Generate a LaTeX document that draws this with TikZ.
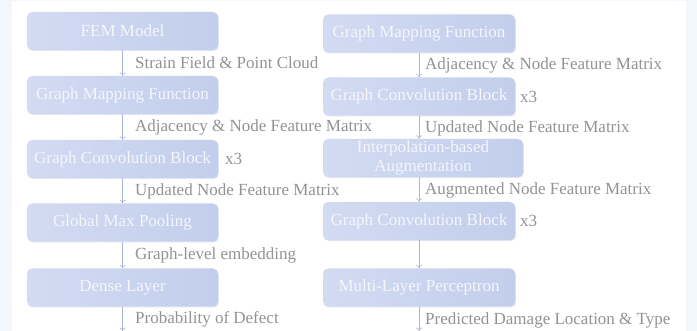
\documentclass[tikz,border=0pt]{standalone}
\usepackage{fontspec}
\setmainfont{Liberation Serif}
\usetikzlibrary{shadows,arrows.meta}
\definecolor{outerbg}{HTML}{F1F7FD}
\definecolor{boxtl}{HTML}{D2DBF1}
\definecolor{boxbr}{HTML}{C2CEEC}
\definecolor{shcol}{HTML}{BAC4DD}
\definecolor{lblcol}{HTML}{939393}
\definecolor{arrcol}{HTML}{A9B5D4}
\definecolor{boxtxt}{HTML}{F4F6FC}
\tikzset{
  blk/.style={rectangle, rounded corners=5pt, minimum height=38pt, inner sep=0pt,
    left color=boxtl, right color=boxbr, text=boxtxt,
    font=\fontsize{17}{19.5}\selectfont, align=center,
    drop shadow={shadow xshift=0.8pt, shadow yshift=-1pt, fill=shcol, opacity=0.45}},
  lbl/.style={anchor=west, text=lblcol, inner sep=0pt, font=\fontsize{17}{19.5}\selectfont},
  flow/.style={draw=arrcol, line width=0.6pt, -{To[length=3.5pt,width=6pt]}},
}
\begin{document}
\begin{tikzpicture}[x=1pt,y=-1pt]
\useasboundingbox (0,0) rectangle (697,331);
\fill[outerbg] (0,0) rectangle (697,331);
\fill[white] (11.5,1.5) rectangle (686,331);
% left column
\node[blk, minimum width=191pt] (l1) at (122.5,31) {FEM Model};
\node[blk, minimum width=191pt] (l2) at (122.5,95) {Graph Mapping Function};
\node[blk, minimum width=191pt] (l3) at (122.5,159) {Graph Convolution Block};
\node[blk, minimum width=191pt] (l4) at (122.5,222.5) {Global Max Pooling};
\node[blk, minimum width=191pt] (l5) at (122.5,287.5) {Dense Layer};
\coordinate (lend) at (122.5,331);
\draw[flow] (l1.south) -- (l2.north);
\draw[flow] (l2.south) -- (l3.north);
\draw[flow] (l3.south) -- (l4.north);
\draw[flow] (l4.south) -- (l5.north);
\draw[flow] (l5.south) -- (lend);
\node[lbl] (t1) at (135,63) {Strain Field \& Point Cloud};
\node[lbl] (t2) at (135,127.5) {Adjacency \& Node Feature Matrix};
\node[lbl] (t3) at (135,191) {Updated Node Feature Matrix};
\node[lbl] (t4) at (135,255) {Graph-level embedding};
\node[lbl] (t5) at (135,319.5) {Probability of Defect};
\node[lbl] (x1) at (225,159) {x3};
% right column
\node[blk, minimum width=192pt] (r1) at (419,33.5) {Graph Mapping Function};
\node[blk, minimum width=192pt] (r2) at (419,96.5) {Graph Convolution Block};
\node[blk, minimum width=200pt, text width=200pt] (r3) at (423,158) {Interpolation-based\\Augmentation};
\node[blk, minimum width=192pt] (r4) at (419,221) {Graph Convolution Block};
\node[blk, minimum width=192pt] (r5) at (419,287.5) {Multi-Layer Perceptron};
\coordinate (rend) at (419,331);
\draw[flow] (r1.south) -- (r2.north);
\draw[flow] (r2.south) -- (r3.north -| r2.south);
\draw[flow] (r3.south -| r4.north) -- (r4.north);
\draw[flow] (r4.south) -- (r5.north);
\draw[flow] (r5.south) -- (rend);
\node[lbl] (s1) at (425,65) {Adjacency \& Node Feature Matrix};
\node[lbl] (s2) at (425,128) {Updated Node Feature Matrix};
\node[lbl] (s3) at (425,190.5) {Augmented Node Feature Matrix};
\node[lbl] (s5) at (425,320.5) {Predicted Damage Location \& Type};
\node[lbl] (x2) at (520,97) {x3};
\node[lbl] (x3) at (520,221) {x3};
\end{tikzpicture}
\end{document}
